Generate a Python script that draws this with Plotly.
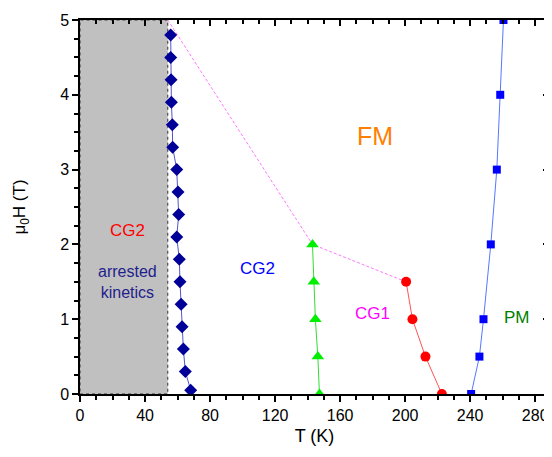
import plotly.graph_objects as go

# Data
diamond_T = [55.8, 55.8, 56.0, 56.2, 56.8, 57.0, 59.5, 60.3, 60.7, 59.5, 61.1, 61.5, 62.2, 62.8, 63.6, 64.8, 68.1]
diamond_H = [4.8, 4.5, 4.2, 3.9, 3.6, 3.3, 3.0, 2.7, 2.4, 2.1, 1.8, 1.5, 1.2, 0.9, 0.6, 0.3, 0.05]

tri_T = [143.0, 143.8, 144.8, 146.3, 147.3]
tri_H = [2.0, 1.5, 1.0, 0.5, 0.0]

circ_T = [200.6, 204.5, 212.5, 222.6]
circ_H = [1.5, 1.0, 0.5, 0.0]

sq_T = [240.6, 245.7, 248.2, 252.7, 256.4, 258.5, 260.5]
sq_H = [0.0, 0.5, 1.0, 2.0, 3.0, 4.0, 5.0]

dash_T = [54.0, 143.0, 200.6]
dash_H = [5.0, 2.0, 1.5]

arrested_T = 54.0
x_range = [0, 288.5]
y_range = [0, 5]
x_ticks = [0, 40, 80, 120, 160, 200, 240, 280]
y_ticks = [0, 1, 2, 3, 4, 5]

labels = [
    dict(text="FM", T=181.5, H=3.45, color="#FF8000", size=25),
    dict(text="CG2", T=29, H=2.19, color="#FF0000", size=17),
    dict(text="arrested<br>kinetics", T=29, H=1.5, color="#1E1E8C", size=16),
    dict(text="CG2", T=109, H=1.68, color="#0000FF", size=17),
    dict(text="CG1", T=180, H=1.07, color="#FF00FF", size=17),
    dict(text="PM", T=269, H=1.02, color="#008000", size=17),
]

FONT = "Liberation Sans, Arial, sans-serif"

fig = go.Figure()

fig.add_shape(type="rect", xref="x", yref="y", x0=0, x1=arrested_T, y0=y_range[0], y1=y_range[1],
              fillcolor="#C0C0C0", line=dict(color="#333333", width=1, dash="dot"), layer="below")

fig.add_trace(go.Scatter(x=dash_T, y=dash_H, mode="lines",
                         line=dict(color="#FF77FF", width=1, dash="3px,2px"), showlegend=False))
fig.add_trace(go.Scatter(x=diamond_T, y=diamond_H, mode="lines+markers",
                         line=dict(color="#5555CC", width=1),
                         marker=dict(symbol="diamond", size=10, color="#000099"), showlegend=False))
fig.add_trace(go.Scatter(x=tri_T, y=tri_H, mode="lines+markers",
                         line=dict(color="#33DD33", width=1),
                         marker=dict(symbol="triangle-up", size=11, color="#00EE00"), showlegend=False))
fig.add_trace(go.Scatter(x=circ_T, y=circ_H, mode="lines+markers",
                         line=dict(color="#FF5555", width=1),
                         marker=dict(symbol="circle", size=10, color="#FF0000"), showlegend=False))
fig.add_trace(go.Scatter(x=sq_T, y=sq_H, mode="lines+markers",
                         line=dict(color="#5577FF", width=1),
                         marker=dict(symbol="square", size=8, color="#0000FF"), showlegend=False))
# dummy trace for mirrored inside-tick axes
fig.add_trace(go.Scatter(x=[None], y=[None], xaxis="x2", yaxis="y2", showlegend=False, hoverinfo="skip"))

for lab in labels:
    fig.add_annotation(x=lab["T"], y=lab["H"], text=lab["text"], showarrow=False,
                       font=dict(color=lab["color"], size=lab["size"], family=FONT))

axis_common = dict(showgrid=False, zeroline=False, linecolor="black", linewidth=1.5,
                   tickcolor="black", tickwidth=1.5, showline=True, automargin=False)

# page body adds an 8px offset, so the figure is sized to fit the window
fig.update_layout(
    width=544, height=449,
    margin=dict(l=72, r=3, t=12, b=63),
    plot_bgcolor="white", paper_bgcolor="white",
    font=dict(family=FONT, size=16, color="black"),
    xaxis=dict(range=x_range, tickvals=x_ticks, ticks="outside", ticklen=6,
               minor=dict(dtick=10, ticks="outside", ticklen=4, tickcolor="black", tickwidth=1.5),
               title=dict(text="T (K)", font=dict(size=18), standoff=6),
               tickfont=dict(size=16), **axis_common),
    yaxis=dict(range=y_range, tickvals=y_ticks, ticks="outside", ticklen=6,
               minor=dict(dtick=0.25, ticks="outside", ticklen=4, tickcolor="black", tickwidth=1.5),
               title=dict(text="μ<sub>0</sub>H (T)", font=dict(size=17), standoff=30),
               tickfont=dict(size=16), **axis_common),
    xaxis2=dict(range=x_range, overlaying="x", side="top", anchor="y", tickvals=x_ticks,
                ticks="inside", ticklen=6, showticklabels=False,
                minor=dict(dtick=10, ticks="inside", ticklen=4, tickcolor="black", tickwidth=1.5),
                **axis_common),
    yaxis2=dict(range=y_range, overlaying="y", side="right", anchor="x", tickvals=y_ticks,
                ticks="inside", ticklen=6, showticklabels=False,
                minor=dict(dtick=0.25, ticks="inside", ticklen=4, tickcolor="black", tickwidth=1.5),
                **axis_common),
)

fig.write_html("out.html")
